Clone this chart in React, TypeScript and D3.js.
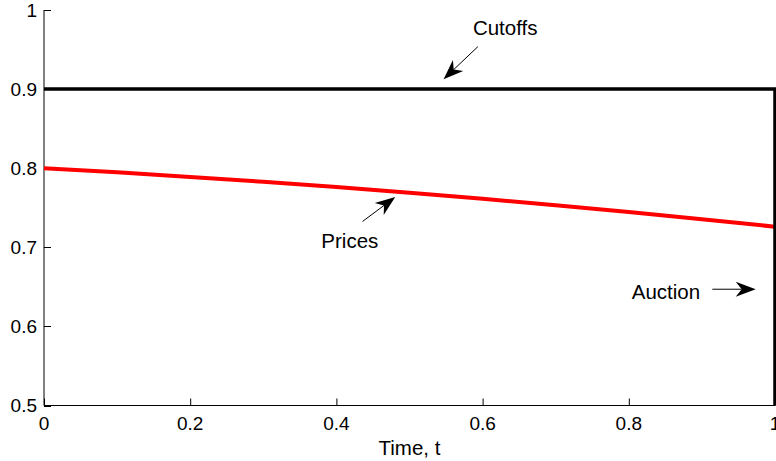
import React from "react";
import * as d3 from "d3";

// price path over time
const priceTimes = [0, 0.1, 0.2, 0.3, 0.4, 0.5, 0.6, 0.7, 0.8, 0.9, 1];
const prices = [0.8, 0.7948, 0.789, 0.7828, 0.7762, 0.769, 0.7614, 0.7532, 0.7446, 0.7356, 0.726];

// cutoff path: flat at 0.9 then drops at t = 1
const cutoffTimes = [0, 1, 1];
const cutoffs = [0.9, 0.9, 0.5];

const xTicks = [0, 0.2, 0.4, 0.6, 0.8, 1];
const yTicks = [0.5, 0.6, 0.7, 0.8, 0.9, 1];

// annotations: text anchor and arrow tail -> tip, in data units
const noteLabels = ["Cutoffs", "Prices", "Auction"];
const noteText = [[0.5867, 0.968], [0.3794, 0.6995], [0.8041, 0.6347]];
const noteFrom = [[0.5936, 0.9537], [0.4358, 0.7327], [0.9143, 0.647]];
const noteTo = [[0.5466, 0.9125], [0.4805, 0.7635], [0.9736, 0.647]];

const W = 776;
const H = 461;
const font = "Liberation Sans, Arial, Helvetica, sans-serif";

export default function App() {
  const x = d3.scaleLinear().domain([0, 1]).range([44, 775]);
  const y = d3.scaleLinear().domain([0.5, 1]).range([405.5, 10]);
  const fmt = d3.format("~g");

  const line = d3.line<[number, number]>()
    .x(d => x(d[0]))
    .y(d => y(d[1]));

  const pricePts = priceTimes.map((t, i) => [t, prices[i]] as [number, number]);
  const cutoffPts = cutoffTimes.map((t, i) => [t, cutoffs[i]] as [number, number]);

  const arrow = (i: number) => {
    const x0 = x(noteFrom[i][0]), y0 = y(noteFrom[i][1]);
    const x1 = x(noteTo[i][0]), y1 = y(noteTo[i][1]);
    const len = Math.hypot(x1 - x0, y1 - y0);
    const ux = (x1 - x0) / len, uy = (y1 - y0) / len;
    const nx = -uy, ny = ux;
    const L = 20, hw = 7.5, notch = 6;
    const bx = x1 - ux * L, by = y1 - uy * L;
    const mx = x1 - ux * (L - notch), my = y1 - uy * (L - notch);
    const head = [
      [x1, y1],
      [bx + nx * hw, by + ny * hw],
      [mx, my],
      [bx - nx * hw, by - ny * hw],
    ].map(p => p.join(",")).join(" ");
    return (
      <g key={"a" + i}>
        <line x1={x0} y1={y0} x2={mx} y2={my} stroke="#000" strokeWidth={1} />
        <polygon points={head} fill="#000" />
      </g>
    );
  };

  return (
    <svg width={W} height={H} style={{ position: "absolute", left: 0, top: 0, background: "#fff" }}>
      <rect width={W} height={H} fill="#fff" />

      {/* axes */}
      <line x1={x(0)} x2={x(1)} y1={405.5} y2={405.5} stroke="#000" strokeWidth={1} />
      <line x1={44} x2={44} y1={y(1)} y2={405.5} stroke="#000" strokeWidth={1} />
      {xTicks.map(t => (
        <g key={"x" + t}>
          <line x1={x(t) + 0.5} x2={x(t) + 0.5} y1={405.5} y2={398.5} stroke="#000" strokeWidth={1} />
          <text x={x(t)} y={430} textAnchor="middle" fontFamily={font} fontSize={19}>{fmt(t)}</text>
        </g>
      ))}
      {yTicks.map(v => (
        <g key={"y" + v}>
          <line x1={44} x2={51} y1={Math.round(y(v)) + 0.5} y2={Math.round(y(v)) + 0.5} stroke="#000" strokeWidth={1} />
          <text x={37} y={y(v)} dy="0.35em" textAnchor="end" fontFamily={font} fontSize={19}>{fmt(v)}</text>
        </g>
      ))}
      <text x={x(0.5)} y={455} textAnchor="middle" fontFamily={font} fontSize={20.5}>Time, t</text>

      {/* series */}
      <path d={line(pricePts) || ""} fill="none" stroke="#ff0000" strokeWidth={4} />
      <path d={line(cutoffPts) || ""} fill="none" stroke="#000" strokeWidth={3.5} />

      {/* annotations */}
      {noteLabels.map((lab, i) => (
        <text key={lab} x={x(noteText[i][0])} y={y(noteText[i][1])} fontFamily={font} fontSize={20.5}>{lab}</text>
      ))}
      {noteLabels.map((_, i) => arrow(i))}
    </svg>
  );
}
